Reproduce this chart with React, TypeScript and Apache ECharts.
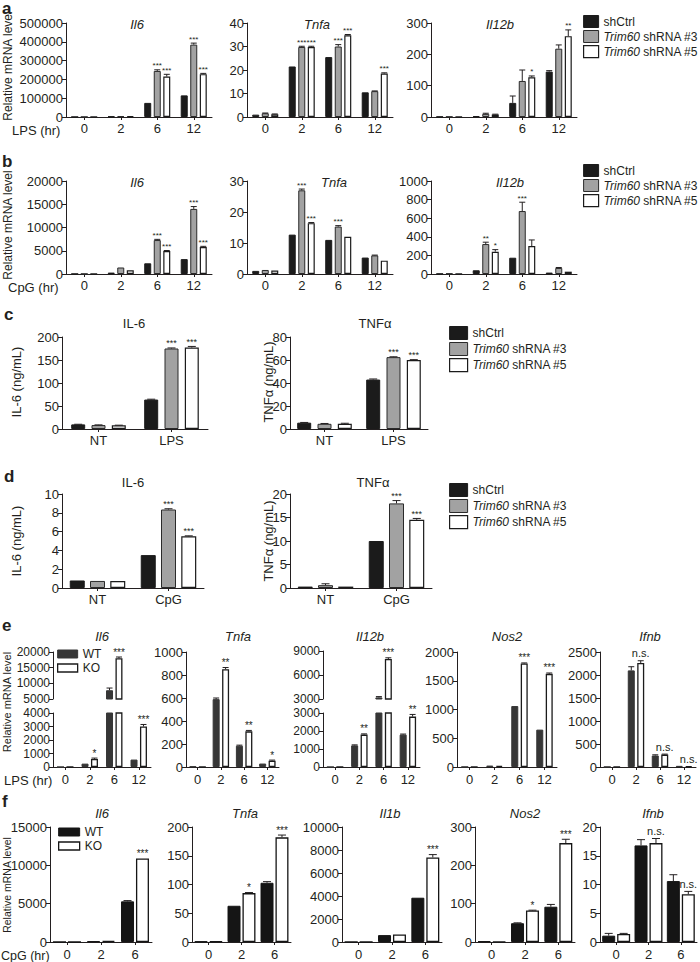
import React, { useEffect, useRef } from 'react';
import * as echarts from 'echarts';

const FONT = "'Liberation Sans', Arial, Helvetica, sans-serif";
const NARROW = "'Liberation Sans Narrow', 'Liberation Sans', Arial, sans-serif";
const INK = '#231f20';

// ---------- categories ----------
const lpsHours = ['0', '2', '6', '12'];
const cpgHours = ['0', '2', '6', '12'];
const cpgHoursKO = ['0', '2', '6'];
const lpsTreat = ['NT', 'LPS'];
const cpgTreat = ['NT', 'CpG'];
const shGroups = ['shCtrl', 'Trim60 shRNA #3', 'Trim60 shRNA #5'];
const koGroups = ['WT', 'KO'];

// ---------- panel a (LPS, shRNA) ----------
const aIl6Vals = [[500, 3000, 75000, 115000], [700, 4000, 245000, 385000], [500, 4000, 215000, 228000]];
const aIl6Errs = [[0, 0, 0, 0], [0, 0, 6000, 8000], [0, 0, 12000, 4000]];
const aIl6Sigs = [['', '', '', ''], ['', '', '***', '***'], ['', '', '***', '***']];
const aIl6Ticks = [0, 500000, 100000];
const aTnfaVals = [[1.0, 21.5, 25.5, 10.5], [1.6, 29.8, 30.0, 11.0], [1.2, 29.8, 34.8, 18.5]];
const aTnfaErrs = [[0, 0, 0, 0], [0.1, 0.3, 0.8, 0.1], [0.1, 0.3, 0.3, 0.3]];
const aTnfaSigs = [['', '', '', ''], ['', '***', '***', ''], ['', '***', '***', '***']];
const aTnfaTicks = [0, 40, 10];
const aIl12bVals = [[1, 3, 45, 145], [1, 10, 115, 218], [1, 8, 127, 258]];
const aIl12bErrs = [[0, 0, 22, 3], [0, 2, 35, 12], [0, 1, 4, 20]];
const aIl12bSigs = [['', '', '', ''], ['', '', '', ''], ['', '', '*', '**']];
const aIl12bTicks = [0, 300, 100];

// ---------- panel b (CpG, shRNA) ----------
const bIl6Vals = [[30, 300, 2300, 3200], [40, 1400, 7300, 14000], [30, 800, 4950, 5800]];
const bIl6Errs = [[0, 0, 0, 0], [0, 0, 150, 500], [0, 0, 100, 150]];
const bIl6Sigs = [['', '', '', ''], ['', '', '***', '***'], ['', '', '***', '***']];
const bIl6Ticks = [0, 20000, 5000];
const bTnfaVals = [[1.0, 12.7, 11.0, 5.3], [1.3, 27.0, 15.3, 6.0], [1.1, 16.4, 12.0, 4.3]];
const bTnfaErrs = [[0, 0, 0, 0], [0, 0.4, 0.3, 0.1], [0, 0.2, 0, 0]];
const bTnfaSigs = [['', '', '', ''], ['', '***', '***', ''], ['', '***', '', '']];
const bTnfaTicks = [0, 30, 10];
const bIl12bVals = [[3, 40, 175, 15], [5, 322, 677, 65], [3, 240, 301, 25]];
const bIl12bErrs = [[0, 0, 0, 0], [0, 20, 95, 5], [0, 22, 65, 0]];
const bIl12bSigs = [['', '', '', ''], ['', '**', '***', ''], ['', '*', '', '']];
const bIl12bTicks = [0, 1000, 200];

// ---------- panel c (LPS, ELISA) ----------
const cIl6Vals = [[10, 64], [8.5, 175], [8, 177]];
const cIl6Errs = [[0.3, 0.8], [0.5, 1.2], [0.3, 2.5]];
const cIl6Sigs = [['', ''], ['', '***'], ['', '***']];
const cIl6Ticks = [0, 200, 50];
const cTnfVals = [[5.5, 43], [4.5, 62.5], [4.5, 60]];
const cTnfErrs = [[0.2, 0.5], [0.3, 0.3], [0.5, 0.3]];
const cTnfSigs = [['', ''], ['', '***'], ['', '***']];
const cTnfTicks = [0, 80, 20];

// ---------- panel d (CpG, ELISA) ----------
const dIl6Vals = [[0.8, 3.5], [0.75, 8.35], [0.75, 5.5]];
const dIl6Errs = [[0, 0], [0, 0.08], [0, 0.05]];
const dIl6Sigs = [['', ''], ['', '***'], ['', '***']];
const dIl6Ticks = [0, 10, 2];
const dTnfVals = [[0.3, 10], [0.6, 18], [0.3, 14.5]];
const dTnfErrs = [[0, 0], [0.3, 0.6], [0, 0.3]];
const dTnfSigs = [['', ''], ['', '***'], ['', '***']];
const dTnfTicks = [0, 20, 5];

// ---------- panel e (LPS, WT/KO) ----------
const eIl6Vals = [[0, 250, 7800, 550], [0, 600, 18000, 3000]];
const eIl6Errs = [[0, 0, 700, 0], [0, 60, 400, 150]];
const eIl6Sigs = [['', '', '', ''], ['', '*', '***', '***']];
const eIl6TicksHigh = [5000, 20000, 5000];
const eIl6TicksLow = [0, 4000, 1000];
const eTnfaVals = [[5, 590, 185, 30], [0, 850, 310, 55]];
const eTnfaErrs = [[0, 10, 5, 0], [0, 15, 8, 5]];
const eTnfaSigs = [['', '', '', ''], ['', '**', '**', '*']];
const eTnfaTicks = [0, 1000, 200];
const eIl12bVals = [[0, 1200, 3200, 1800], [0, 1800, 8000, 2800]];
const eIl12bErrs = [[0, 30, 100, 30], [0, 40, 150, 120]];
const eIl12bSigs = [['', '', '', ''], ['', '**', '***', '**']];
const eIl12bTicksHigh = [3000, 9000, 3000];
const eIl12bTicksLow = [0, 3000, 1000];
const eNos2Vals = [[3, 25, 1060, 650], [3, 20, 1800, 1620]];
const eNos2Errs = [[0, 0, 0, 0], [0, 0, 10, 15]];
const eNos2Sigs = [['', '', '', ''], ['', '', '***', '***']];
const eNos2Ticks = [0, 2000, 500];
const eIfnbVals = [[3, 2100, 250, 25], [5, 2260, 270, 20]];
const eIfnbErrs = [[0, 80, 15, 0], [0, 50, 10, 0]];
const eIfnbSigs = [['', '', '', ''], ['', 'n.s.', 'n.s.', 'n.s.']];
const eIfnbTicks = [0, 2500, 500];

// ---------- panel f (CpG, WT/KO) ----------
const fIl6Vals = [[0, 100, 5300], [0, 150, 10900]];
const fIl6Errs = [[0, 0, 100], [0, 0, 0]];
const fIl6Sigs = [['', '', ''], ['', '', '***']];
const fIl6Ticks = [0, 15000, 5000];
const fTnfaVals = [[1, 63, 103], [1, 85, 182]];
const fTnfaErrs = [[0, 0, 2], [0, 1, 4]];
const fTnfaSigs = [['', '', ''], ['', '*', '***']];
const fTnfaTicks = [0, 200, 50];
const fIl1bVals = [[0, 600, 3850], [0, 650, 7350]];
const fIl1bErrs = [[0, 0, 0], [0, 0, 250]];
const fIl1bSigs = [['', '', ''], ['', '', '***']];
const fIl1bTicks = [0, 10000, 2000];
const fNos2Vals = [[2, 49, 92], [1, 82, 258]];
const fNos2Errs = [[0, 1, 6], [0, 1, 10]];
const fNos2Sigs = [['', '', ''], ['', '*', '***']];
const fNos2Ticks = [0, 300, 100];
const fIfnbVals = [[1.1, 16.8, 10.6], [1.4, 17.2, 8.3]];
const fIfnbErrs = [[0.4, 1.0, 1.1], [0.1, 0.8, 0.5]];
const fIfnbSigs = [['', '', ''], ['', 'n.s.', 'n.s.']];
const fIfnbTicks = [0, 20, 5];

// ---------- styles ----------
type BarStyle = { color: string; borderColor: string; borderWidth: number };
const SH_STYLES: BarStyle[] = [
  { color: '#1b1b1b', borderColor: '#1b1b1b', borderWidth: 1 },
  { color: '#a2a2a2', borderColor: '#2a2a2a', borderWidth: 1 },
  { color: '#ffffff', borderColor: '#1b1b1b', borderWidth: 1.2 },
];
const KO_E_STYLES: BarStyle[] = [
  { color: '#363636', borderColor: '#363636', borderWidth: 1 },
  { color: '#ffffff', borderColor: '#1b1b1b', borderWidth: 1.3 },
];
const KO_F_STYLES: BarStyle[] = [
  { color: '#151515', borderColor: '#151515', borderWidth: 1 },
  { color: '#ffffff', borderColor: '#151515', borderWidth: 1.3 },
];

interface Spec {
  left: number; top: number; width: number; height: number;
  cats: string[]; names: string[]; vals: number[][]; errs: number[][]; sigs: string[][];
  styles: BarStyle[]; ticks: number[];
  barWidth: number; barGap: number; cap: number;
  font?: string; labelSize?: number; starSize?: number; nsSize?: number;
  showX?: boolean; xMargin?: number;
}

function addChart(opt: any, s: Spec) {
  const gi = opt.grid.length;
  const font = s.font || FONT;
  const labelSize = s.labelSize || 13;
  const starSize = s.starSize || 10;
  const nsSize = s.nsSize || 11;
  const showX = s.showX !== false;
  const [min, max, interval] = s.ticks;
  opt.grid.push({ left: s.left, top: s.top, width: s.width, height: s.height });
  opt.xAxis.push({
    type: 'category', gridIndex: gi, data: s.cats, show: showX,
    axisLine: { show: true, onZero: false, lineStyle: { color: INK, width: 1 } },
    axisTick: { show: true, alignWithLabel: true, length: 3, lineStyle: { color: INK } },
    axisLabel: { fontSize: 13, fontFamily: font, color: INK, margin: s.xMargin || 5 },
    splitLine: { show: false },
  });
  opt.yAxis.push({
    type: 'value', gridIndex: gi, min, max, interval,
    axisLine: { show: true, lineStyle: { color: INK, width: 1 } },
    axisTick: { show: true, length: 4, lineStyle: { color: INK } },
    axisLabel: { fontSize: labelSize, fontFamily: font, color: INK, margin: 3, formatter: (v: number) => String(v) },
    splitLine: { show: false },
  });
  s.names.forEach((name, i) => {
    opt.series.push({
      type: 'bar', name, xAxisIndex: gi, yAxisIndex: gi, data: s.vals[i],
      barWidth: s.barWidth, barGap: `${Math.round(s.barGap * 100)}%`,
      itemStyle: { ...s.styles[i] }, clip: true, silent: true,
    });
  });
  const n = s.names.length;
  const w = s.barWidth;
  const total = n * w + (n - 1) * w * s.barGap;
  opt.series.push({
    type: 'custom', xAxisIndex: gi, yAxisIndex: gi, silent: true, z: 5,
    itemStyle: { color: INK },
    data: s.cats.map((_, k) => [k, min]),
    encode: { x: 0, y: 1 },
    renderItem: (params: any, api: any) => {
      const k = params.dataIndex;
      const children: any[] = [];
      for (let i = 0; i < n; i++) {
        const v = s.vals[i][k];
        const e = s.errs[i][k] || 0;
        if (v < min || v + e > max) continue;
        const base = api.coord([k, v]);
        const x = base[0] - total / 2 + w / 2 + i * w * (1 + s.barGap);
        const topY = api.coord([k, v + e])[1];
        if (e > 0) {
          children.push({ type: 'line', shape: { x1: x, y1: base[1], x2: x, y2: topY }, style: { stroke: INK, lineWidth: 1, fill: null } });
          children.push({ type: 'line', shape: { x1: x - s.cap, y1: topY, x2: x + s.cap, y2: topY }, style: { stroke: INK, lineWidth: 1, fill: null } });
        }
        const t = s.sigs[i][k];
        if (t) {
          const ns = t === 'n.s.';
          children.push({
            type: 'text', x, y: topY - (ns ? 2 : 0),
            style: {
              text: t, fontSize: ns ? nsSize : starSize, fontFamily: font, fill: INK,
              align: 'center', verticalAlign: 'bottom',
            },
          });
        }
      }
      return { type: 'group', children };
    },
  });
}

function txt(text: string, x: number, y: number, o: any = {}) {
  return {
    type: 'text', x, y, rotation: o.rot || 0, silent: true,
    style: {
      text, fontSize: o.size || 13, fontFamily: o.font || FONT,
      fontStyle: o.italic ? 'italic' : 'normal', fontWeight: o.bold ? 'bold' : 'normal',
      fill: INK, align: o.align || 'center', verticalAlign: 'middle',
    },
  };
}

function shLegend(left: number, top: number, font: string, size: number, iw: number, ih: number) {
  return {
    left, top, orient: 'vertical', itemWidth: iw, itemHeight: ih, itemGap: 2, padding: 0,
    selectedMode: false, icon: 'rect',
    data: shGroups.map((name, i) => ({ name, icon: 'rect', itemStyle: { ...SH_STYLES[i] } })),
    formatter: (name: string) => (name.indexOf('Trim60') === 0 ? '{i|Trim60}' + name.slice(6) : name),
    textStyle: {
      fontSize: size, fontFamily: font, color: INK,
      rich: { i: { fontStyle: 'italic', fontSize: size, fontFamily: font, color: INK } },
    },
  };
}

function koLegend(left: number, top: number, styles: BarStyle[], iw: number, ih: number) {
  return {
    left, top, orient: 'vertical', itemWidth: iw, itemHeight: ih, itemGap: 2, padding: 0,
    selectedMode: false, icon: 'rect',
    data: koGroups.map((name, i) => ({ name, icon: 'rect', itemStyle: { ...styles[i] } })),
    textStyle: { fontSize: 12, fontFamily: FONT, color: INK },
  };
}

function buildOption() {
  const opt: any = {
    animation: false, backgroundColor: '#ffffff',
    grid: [], xAxis: [], yAxis: [], series: [], legend: [],
  };
  const sh = { names: shGroups, styles: SH_STYLES };
  const abBar = { barWidth: 7, barGap: 0.36, cap: 3, starSize: 8 };
  // a
  const aTop = 23, aH = 94;
  addChart(opt, { ...sh, ...abBar, left: 66, top: aTop, width: 146, height: aH, cats: lpsHours, vals: aIl6Vals, errs: aIl6Errs, sigs: aIl6Sigs, ticks: aIl6Ticks });
  addChart(opt, { ...sh, ...abBar, left: 247, top: aTop, width: 146, height: aH, cats: lpsHours, vals: aTnfaVals, errs: aTnfaErrs, sigs: aTnfaSigs, ticks: aTnfaTicks });
  addChart(opt, { ...sh, ...abBar, left: 431, top: aTop, width: 146, height: aH, cats: lpsHours, vals: aIl12bVals, errs: aIl12bErrs, sigs: aIl12bSigs, ticks: aIl12bTicks });
  // b
  const bTop = 181, bH = 93;
  addChart(opt, { ...sh, ...abBar, left: 66, top: bTop, width: 146, height: bH, cats: cpgHours, vals: bIl6Vals, errs: bIl6Errs, sigs: bIl6Sigs, ticks: bIl6Ticks });
  addChart(opt, { ...sh, ...abBar, left: 247, top: bTop, width: 146, height: bH, cats: cpgHours, vals: bTnfaVals, errs: bTnfaErrs, sigs: bTnfaSigs, ticks: bTnfaTicks });
  addChart(opt, { ...sh, ...abBar, left: 431, top: bTop, width: 146, height: bH, cats: cpgHours, vals: bIl12bVals, errs: bIl12bErrs, sigs: bIl12bSigs, ticks: bIl12bTicks });
  // c
  const cTop = 337, cH = 92;
  addChart(opt, { ...sh, left: 62, top: cTop, width: 146, height: cH, cats: lpsTreat, vals: cIl6Vals, errs: cIl6Errs, sigs: cIl6Sigs, ticks: cIl6Ticks, barWidth: 14, barGap: 0.45, cap: 4, font: NARROW, starSize: 9 });
  addChart(opt, { ...sh, left: 290, top: cTop, width: 138, height: cH, cats: lpsTreat, vals: cTnfVals, errs: cTnfErrs, sigs: cTnfSigs, ticks: cTnfTicks, barWidth: 14, barGap: 0.45, cap: 4, font: NARROW, starSize: 9 });
  // d
  const dTop = 494, dH = 94;
  addChart(opt, { ...sh, left: 62, top: dTop, width: 142, height: dH, cats: cpgTreat, vals: dIl6Vals, errs: dIl6Errs, sigs: dIl6Sigs, ticks: dIl6Ticks, barWidth: 15, barGap: 0.35, cap: 4, font: NARROW, starSize: 9 });
  addChart(opt, { ...sh, left: 290, top: dTop, width: 142, height: dH, cats: cpgTreat, vals: dTnfVals, errs: dTnfErrs, sigs: dTnfSigs, ticks: dTnfTicks, barWidth: 15, barGap: 0.35, cap: 4, font: NARROW, starSize: 9 });
  // e
  const ko = { names: koGroups };
  const eTop = 652, eBot = 767, eH = eBot - eTop;
  const eBar = { barWidth: 7, barGap: 0.35, cap: 3, xMargin: 6 };
  addChart(opt, { ...ko, ...eBar, styles: KO_E_STYLES, left: 53, top: 652, width: 98, height: 47, cats: lpsHours, vals: eIl6Vals, errs: eIl6Errs, sigs: eIl6Sigs, ticks: eIl6TicksHigh, showX: false, labelSize: 12 });
  addChart(opt, { ...ko, ...eBar, styles: KO_E_STYLES, left: 53, top: 713, width: 98, height: eBot - 713, cats: lpsHours, vals: eIl6Vals, errs: eIl6Errs, sigs: eIl6Sigs, ticks: eIl6TicksLow, labelSize: 12 });
  addChart(opt, { ...ko, ...eBar, styles: KO_E_STYLES, left: 186, top: eTop, width: 93, height: eH, cats: lpsHours, vals: eTnfaVals, errs: eTnfaErrs, sigs: eTnfaSigs, ticks: eTnfaTicks });
  addChart(opt, { ...ko, ...eBar, styles: KO_E_STYLES, left: 323, top: 651, width: 97, height: 48, cats: lpsHours, vals: eIl12bVals, errs: eIl12bErrs, sigs: eIl12bSigs, ticks: eIl12bTicksHigh, showX: false, labelSize: 12 });
  addChart(opt, { ...ko, ...eBar, styles: KO_E_STYLES, left: 323, top: 713, width: 97, height: eBot - 713, cats: lpsHours, vals: eIl12bVals, errs: eIl12bErrs, sigs: eIl12bSigs, ticks: eIl12bTicksLow, labelSize: 12 });
  addChart(opt, { ...ko, ...eBar, styles: KO_E_STYLES, left: 457, top: eTop, width: 100, height: eH, cats: lpsHours, vals: eNos2Vals, errs: eNos2Errs, sigs: eNos2Sigs, ticks: eNos2Ticks });
  addChart(opt, { ...ko, ...eBar, styles: KO_E_STYLES, left: 600, top: eTop, width: 96, height: eH, cats: lpsHours, vals: eIfnbVals, errs: eIfnbErrs, sigs: eIfnbSigs, ticks: eIfnbTicks });
  // f
  const fTop = 827, fH = 115;
  const fBar = { barWidth: 13, barGap: 0.15, cap: 4, xMargin: 6 };
  addChart(opt, { ...ko, ...fBar, styles: KO_F_STYLES, left: 50, top: fTop, width: 102, height: fH, cats: cpgHoursKO, vals: fIl6Vals, errs: fIl6Errs, sigs: fIl6Sigs, ticks: fIl6Ticks });
  addChart(opt, { ...ko, ...fBar, styles: KO_F_STYLES, left: 192, top: fTop, width: 99, height: fH, cats: cpgHoursKO, vals: fTnfaVals, errs: fTnfaErrs, sigs: fTnfaSigs, ticks: fTnfaTicks });
  addChart(opt, { ...ko, ...fBar, styles: KO_F_STYLES, left: 342, top: fTop, width: 100, height: fH, cats: cpgHoursKO, vals: fIl1bVals, errs: fIl1bErrs, sigs: fIl1bSigs, ticks: fIl1bTicks });
  addChart(opt, { ...ko, ...fBar, styles: KO_F_STYLES, left: 475, top: fTop, width: 100, height: fH, cats: cpgHoursKO, vals: fNos2Vals, errs: fNos2Errs, sigs: fNos2Sigs, ticks: fNos2Ticks });
  addChart(opt, { ...ko, ...fBar, styles: KO_F_STYLES, left: 600, top: fTop, width: 97, height: fH, cats: cpgHoursKO, vals: fIfnbVals, errs: fIfnbErrs, sigs: fIfnbSigs, ticks: fIfnbTicks });

  opt.legend = [
    shLegend(583, 15, FONT, 12, 15, 12),
    shLegend(583, 164, FONT, 12, 15, 12),
    shLegend(449, 326, NARROW, 12, 18, 13),
    shLegend(449, 483, NARROW, 12, 18, 13),
    koLegend(57, 648, KO_E_STYLES, 20, 8),
    koLegend(58, 826, KO_F_STYLES, 21, 8),
  ];

  const V = Math.PI / 2;
  const els: any[] = [
    // panel letters
    txt('a', 2, 8, { bold: true, size: 17, align: 'left' }),
    txt('b', 2, 161, { bold: true, size: 17, align: 'left' }),
    txt('c', 4, 314, { bold: true, size: 17, align: 'left', font: NARROW }),
    txt('d', 4, 476, { bold: true, size: 17, align: 'left', font: NARROW }),
    txt('e', 2, 625, { bold: true, size: 17, align: 'left' }),
    txt('f', 2, 801, { bold: true, size: 17, align: 'left' }),
    // titles a
    txt('Il6', 137, 24, { italic: true }),
    txt('Tnfa', 317, 24, { italic: true }),
    txt('Il12b', 500, 24, { italic: true }),
    // titles b
    txt('Il6', 137, 182, { italic: true }),
    txt('Tnfa', 334, 182, { italic: true }),
    txt('Il12b', 510, 182, { italic: true }),
    // titles c, d
    txt('IL-6', 134, 323, { font: NARROW }),
    txt('TNFα', 375, 323, { font: NARROW }),
    txt('IL-6', 133, 482, { font: NARROW }),
    txt('TNFα', 373, 482, { font: NARROW }),
    // titles e
    txt('Il6', 102, 636, { italic: true }),
    txt('Tnfa', 238, 636, { italic: true }),
    txt('Il12b', 370, 636, { italic: true }),
    txt('Nos2', 507, 636, { italic: true }),
    txt('Ifnb', 650, 636, { italic: true }),
    // titles f
    txt('Il6', 102, 813, { italic: true }),
    txt('Tnfa', 245, 813, { italic: true }),
    txt('Il1b', 390, 813, { italic: true }),
    txt('Nos2', 525, 813, { italic: true }),
    txt('Ifnb', 653, 813, { italic: true }),
    // x axis names
    txt('LPS (hr)', 12, 130, { align: 'left' }),
    txt('CpG (hr)', 8, 287, { align: 'left' }),
    txt('LPS (hr)', 4, 780, { align: 'left' }),
    txt('CpG (hr)', 1, 955.5, { align: 'left', size: 12.5 }),
    // y axis names
    txt('Relative mRNA level', 8, 66, { rot: V, size: 12 }),
    txt('Relative mRNA level', 8, 225, { rot: V, size: 12 }),
    txt('IL-6 (ng/mL)', 16, 382, { rot: V, size: 13, font: NARROW }),
    txt('TNFα (ng/mL)', 268, 382, { rot: V, size: 13, font: NARROW }),
    txt('IL-6 (ng/mL)', 16, 541, { rot: V, size: 13, font: NARROW }),
    txt('TNFα (ng/mL)', 268, 541, { rot: V, size: 13, font: NARROW }),
    txt('Relative mRNA level', 7, 702, { rot: V, size: 11 }),
    txt('Relative mRNA level', 7, 885, { rot: V, size: 10.5 }),
  ];
  opt.graphic = { elements: els };
  return opt;
}

export default function App() {
  const ref = useRef<HTMLDivElement>(null);
  useEffect(() => {
    if (!ref.current) return;
    const chart = echarts.init(ref.current, undefined, { renderer: 'svg' });
    chart.setOption(buildOption());
    return () => chart.dispose();
  }, []);
  return (
    <div
      ref={ref}
      style={{ position: 'absolute', left: 0, top: 0, width: 700, height: 962, background: '#fff' }}
    />
  );
}
